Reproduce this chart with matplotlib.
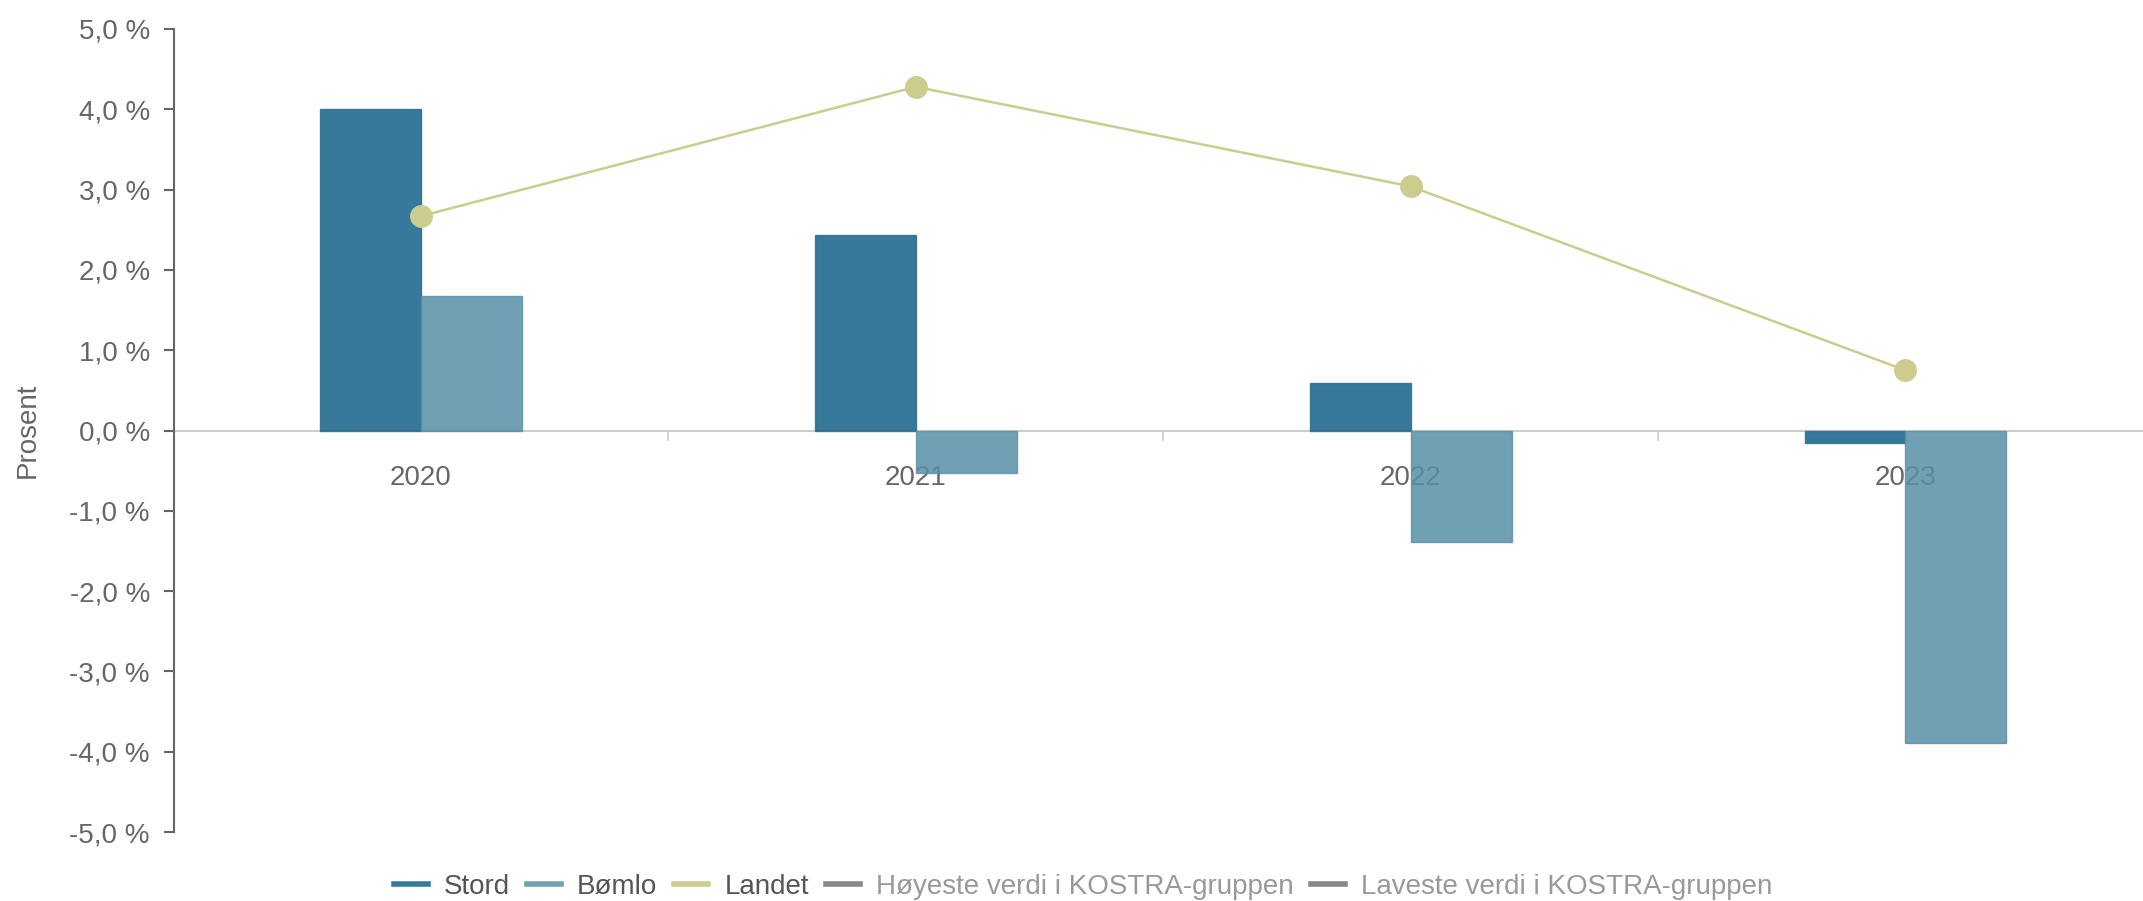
import numpy as np
import matplotlib.pyplot as plt
from matplotlib.lines import Line2D
from matplotlib.ticker import FuncFormatter, FixedLocator

plt.rcParams['font.family'] = ['Liberation Sans', 'DejaVu Sans']

years = ['2020', '2021', '2022', '2023']
stord = [4.00, 2.43, 0.59, -0.15]
bomlo = [1.68, -0.53, -1.39, -3.89]
landet = [2.67, 4.28, 3.04, 0.75]

# bars are slightly see-through, like the original (year labels show through)
col_stord = '#13628a'
col_bomlo = '#5790a6'
col_landet = '#cbcc8e'
txt = '#666666'

fig = plt.figure(figsize=(21.43, 9.01), dpi=100)
ax = fig.add_axes([173.5 / 2143, 69 / 901, 1 - 173.5 / 2143, 803 / 901])

x = np.arange(len(years))
w = 0.204
ax.bar(x - w / 2, stord, w, color=col_stord, alpha=0.85, edgecolor='#2f6d8b', linewidth=1, zorder=2)
ax.bar(x + w / 2, bomlo, w, color=col_bomlo, alpha=0.85, edgecolor='#6090a3', linewidth=1, zorder=2)
ax.plot(x, landet, color=col_landet, linewidth=1.8, marker='o', markersize=16.5,
        markeredgewidth=0, zorder=3)

ax.set_xlim(-0.5, 3.48)
ax.set_ylim(-5, 5)
ax.set_yticks(np.arange(-5, 5.1, 1))
ax.yaxis.set_major_formatter(FuncFormatter(lambda v, p: f'{v:.1f} %'.replace('.', ',')))

for s in ['top', 'right']:
    ax.spines[s].set_visible(False)
ax.spines['left'].set_color(txt)
ax.spines['left'].set_linewidth(1.5)
ax.spines['bottom'].set_position(('data', 0))
ax.spines['bottom'].set_color('#cccccc')
ax.spines['bottom'].set_linewidth(1.5)
ax.spines['bottom'].set_zorder(1)

ax.tick_params(axis='y', colors=txt, labelsize=20, length=7, width=1.5, pad=10)
ax.set_xticks(x)
ax.set_xticklabels(years)
ax.xaxis.set_minor_locator(FixedLocator([0.5, 1.5, 2.5]))
ax.tick_params(axis='x', which='major', length=0, labelsize=20, labelcolor=txt, pad=25)
ax.tick_params(axis='x', which='minor', length=7, width=1.2, color='#cccccc')

fig.text(28 / 2143, 0.5 + (901 / 2 - 430.5) / 901, 'Prosent', rotation=90, color=txt,
         fontsize=20, ha='center', va='center')

handles = [
    Line2D([], [], color='#367a9a', linewidth=4),
    Line2D([], [], color='#70a1b3', linewidth=4),
    Line2D([], [], color=col_landet, linewidth=4),
    Line2D([], [], color='#888888', linewidth=4),
    Line2D([], [], color='#888888', linewidth=4),
]
labels = ['Stord', 'Bømlo', 'Landet', 'Høyeste verdi i KOSTRA-gruppen',
          'Laveste verdi i KOSTRA-gruppen']
leg = fig.legend(handles, labels, loc='center', bbox_to_anchor=(1083 / 2143, 14 / 901),
                 ncol=5, frameon=False, fontsize=20, handlelength=1.22,
                 handletextpad=0.58, columnspacing=0.62, borderpad=0)
for i, t in enumerate(leg.get_texts()):
    t.set_color('#555555' if i < 3 else '#999999')

fig.savefig('out.png', dpi=100)
